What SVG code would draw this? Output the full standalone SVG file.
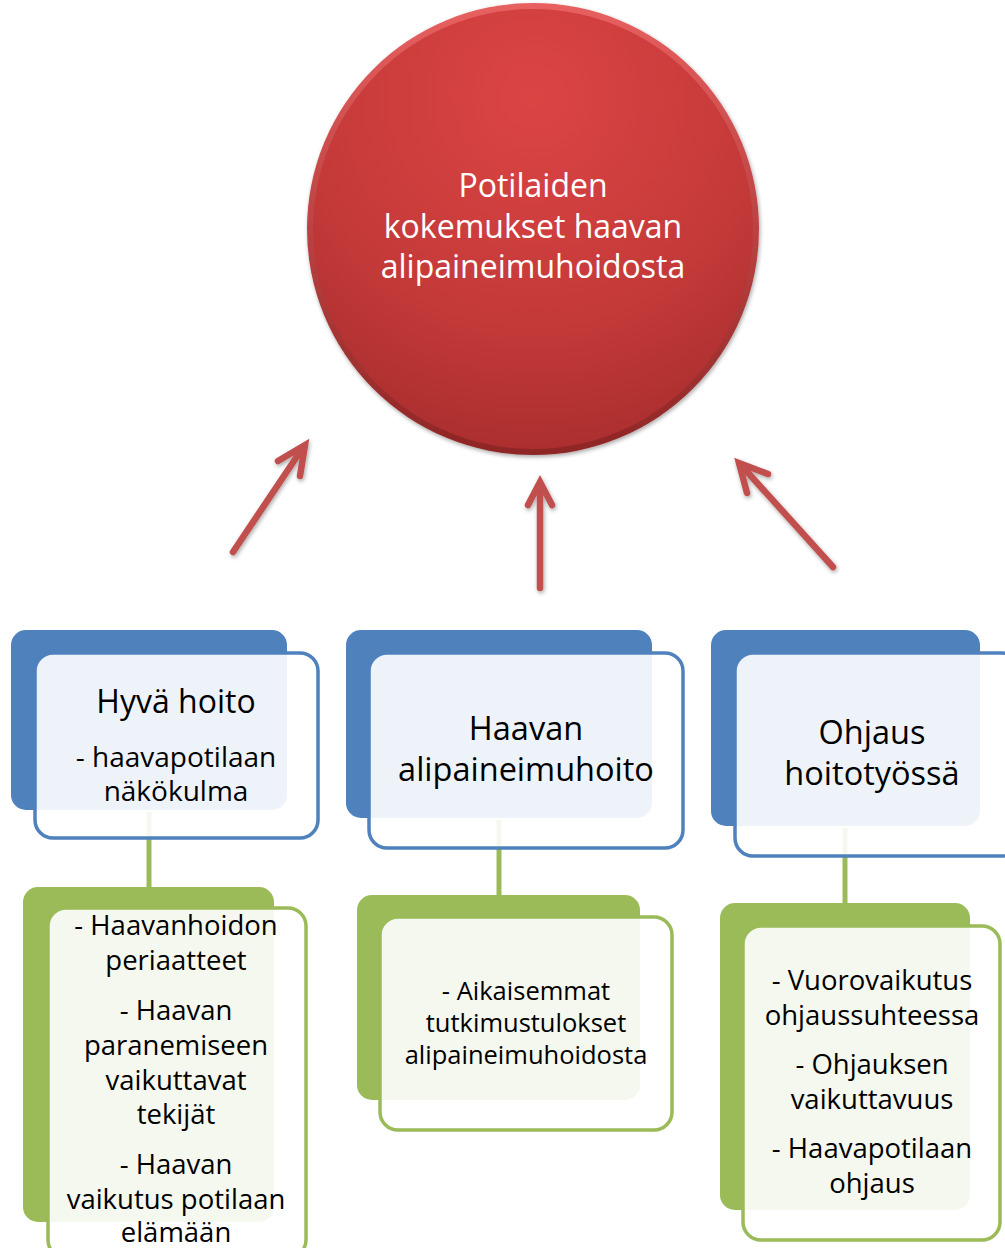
<svg xmlns="http://www.w3.org/2000/svg" width="1005" height="1248" viewBox="0 0 1005 1248">
<style>
.t{font-family:"Open Sans",Lato,"Liberation Sans",sans-serif;text-anchor:middle;fill:#000}
.w{fill:#fff}
.bb{fill:#4f81bd}
.bf{fill:#fff;fill-opacity:0.9;stroke:#4f81bd;stroke-width:3.5}
.gb{fill:#9bbb59}
.gf{fill:#fff;fill-opacity:0.9;stroke:#9bbb59;stroke-width:3.5}
.arr{fill:none;stroke:#c0504d;stroke-width:6.5;stroke-linecap:round;stroke-linejoin:miter}
.con{stroke:#9bbb59;stroke-width:5}
</style>
<defs>
<radialGradient id="rg" cx="0.5" cy="0.2" r="0.85">
<stop offset="0" stop-color="#dc4444"/>
<stop offset="0.6" stop-color="#c43a39"/>
<stop offset="1" stop-color="#a82d2d"/>
</radialGradient>
<linearGradient id="rim" x1="0" y1="0" x2="0" y2="1">
<stop offset="0" stop-color="#e86060"/>
<stop offset="1" stop-color="#8e2525"/>
</linearGradient>
<filter id="sh" x="-10%" y="-10%" width="120%" height="120%">
<feGaussianBlur in="SourceAlpha" stdDeviation="2"/>
<feOffset dx="1" dy="2" result="b"/>
<feComponentTransfer><feFuncA type="linear" slope="0.35"/></feComponentTransfer>
<feMerge><feMergeNode/><feMergeNode in="SourceGraphic"/></feMerge>
</filter>
</defs>
<rect width="1005" height="1248" fill="#fff"/>

<g id="center">
<circle cx="533" cy="229" r="226" fill="url(#rim)" filter="url(#sh)"/>
<circle cx="533" cy="229" r="220" fill="url(#rg)"/>
<text class="t w" font-size="32"><tspan x="533" y="197">Potilaiden</tspan><tspan x="533" y="238">kokemukset haavan</tspan><tspan x="533" y="278">alipaineimuhoidosta</tspan></text>
</g>

<g id="connectors">
<g filter="url(#sh)">
<path class="arr" d="M233 552 L304 446 M278 461 L305 445 L300 476"/>
<path class="arr" d="M540 588 L540 484 M528 505 L540 482 L552 505"/>
<path class="arr" d="M833 567 L741 465 M768 474 L739 463 L747 493"/>
</g>
<line class="con" x1="149" y1="812" x2="149" y2="890"/>
<line class="con" x1="499" y1="820" x2="499" y2="898"/>
<line class="con" x1="845" y1="828" x2="845" y2="906"/>
</g>

<g id="node-hyva">
<rect class="bb" x="11" y="630" width="276" height="180" rx="15"/>
<rect class="bf" x="35" y="653" width="283" height="185" rx="18"/>
<text class="t" font-size="32"><tspan x="176" y="713">Hyvä hoito</tspan></text>
<text class="t" font-size="28"><tspan x="176" y="767">- haavapotilaan</tspan><tspan x="176" y="801">näkökulma</tspan></text>
</g>

<g id="node-haavan">
<rect class="bb" x="346" y="630" width="306" height="188" rx="15"/>
<rect class="bf" x="369" y="653" width="314" height="195" rx="18"/>
<text class="t" font-size="32.5"><tspan x="526" y="740">Haavan</tspan><tspan x="526" y="781">alipaineimuhoito</tspan></text>
</g>

<g id="node-ohjaus">
<rect class="bb" x="711" y="630" width="269" height="196" rx="15"/>
<rect class="bf" x="735" y="653" width="285" height="203" rx="18"/>
<text class="t" font-size="32.5"><tspan x="872" y="744">Ohjaus</tspan><tspan x="872" y="785">hoitotyössä</tspan></text>
</g>

<g id="node-hyva-sub">
<rect class="gb" x="23" y="887" width="251" height="335" rx="15"/>
<rect class="gf" x="48" y="908" width="258" height="350" rx="18"/>
<text class="t" font-size="27.5"><tspan x="176" y="935">- Haavanhoidon</tspan><tspan x="176" y="970">periaatteet</tspan><tspan x="176" y="1020">- Haavan</tspan><tspan x="176" y="1055">paranemiseen</tspan><tspan x="176" y="1090">vaikuttavat</tspan><tspan x="176" y="1124">tekijät</tspan><tspan x="176" y="1174">- Haavan</tspan><tspan x="176" y="1209">vaikutus potilaan</tspan><tspan x="176" y="1242">elämään</tspan></text>
</g>

<g id="node-haavan-sub">
<rect class="gb" x="357" y="895" width="283" height="205" rx="15"/>
<rect class="gf" x="380" y="917" width="292" height="213" rx="18"/>
<text class="t" font-size="25.5"><tspan x="526" y="1000">- Aikaisemmat</tspan><tspan x="526" y="1032">tutkimustulokset</tspan><tspan x="526" y="1064">alipaineimuhoidosta</tspan></text>
</g>

<g id="node-ohjaus-sub">
<rect class="gb" x="720" y="903" width="250" height="307" rx="15"/>
<rect class="gf" x="743" y="926" width="257" height="314" rx="18"/>
<text class="t" font-size="27.5"><tspan x="872" y="990">- Vuorovaikutus</tspan><tspan x="872" y="1025">ohjaussuhteessa</tspan><tspan x="872" y="1074">- Ohjauksen</tspan><tspan x="872" y="1109">vaikuttavuus</tspan><tspan x="872" y="1158">- Haavapotilaan</tspan><tspan x="872" y="1193">ohjaus</tspan></text>
</g>
</svg>
